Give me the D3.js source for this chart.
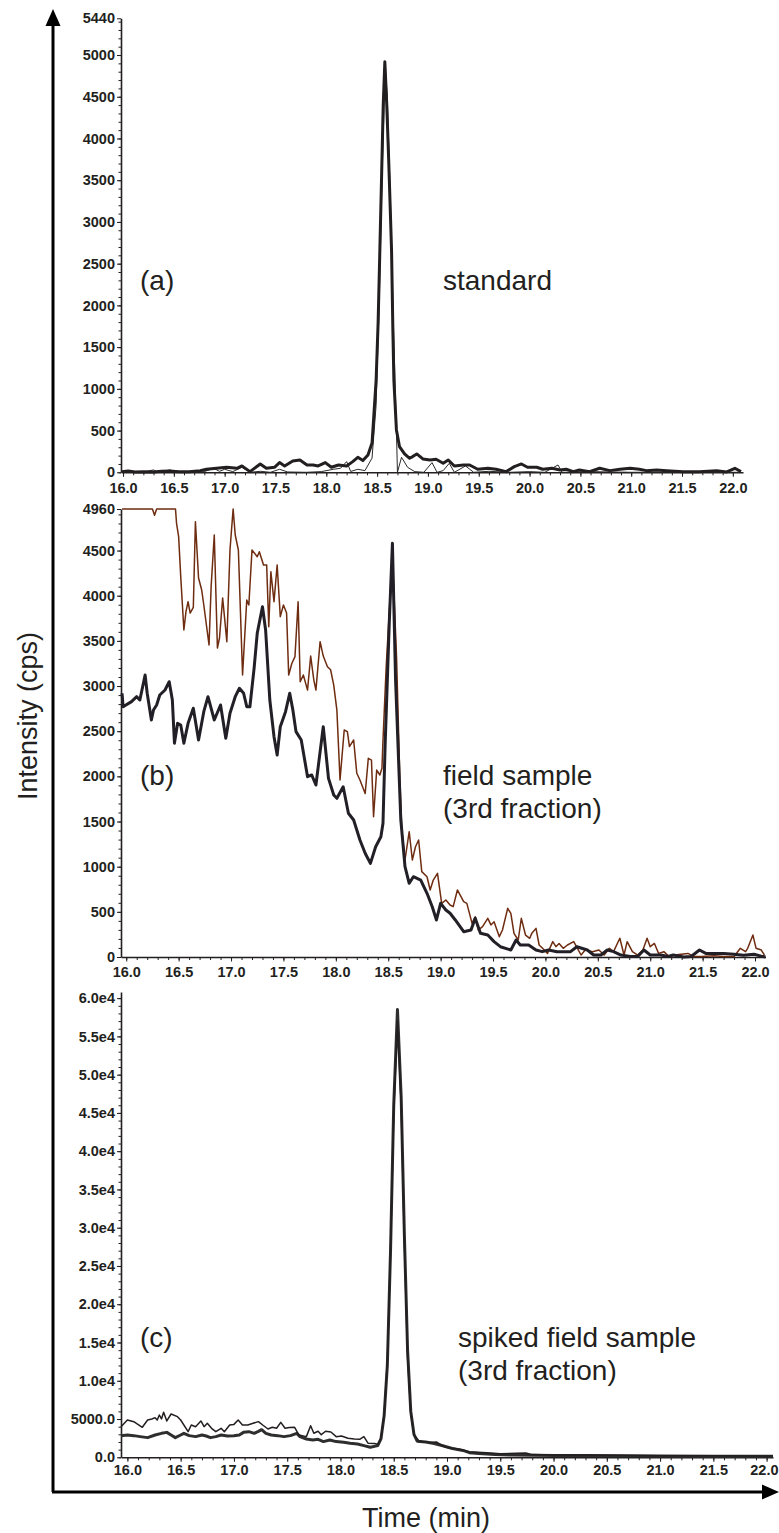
<!DOCTYPE html>
<html>
<head>
<meta charset="utf-8">
<script src="https://cdn.jsdelivr.net/npm/d3@7"></script>
<style>
body { margin: 0; background: #fff; }
svg text { font-family: "Liberation Sans", Arial, Helvetica, sans-serif; fill: #231f20; }
.axis .tick text { font-size: 14.5px; font-weight: bold; }
.axis path, .axis line { stroke: #231f20; }
</style>
</head>
<body>
<svg id="chart" width="779" height="1533"></svg>
<script>
const WIDTH = 779;
const HEIGHT = 1533;
const INK = "#231f20";

// tick labels
const timeTicks = [16.0, 16.5, 17.0, 17.5, 18.0, 18.5, 19.0, 19.5, 20.0, 20.5, 21.0, 21.5, 22.0];
const standardTicks = [0, 500, 1000, 1500, 2000, 2500, 3000, 3500, 4000, 4500, 5000, 5440];
const fieldTicks = [0, 500, 1000, 1500, 2000, 2500, 3000, 3500, 4000, 4500, 4960];
const spikedTicks = [0, 5000, 10000, 15000, 20000, 25000, 30000, 35000, 40000, 45000, 50000, 55000, 60000];
const spikedTickLabels = ["0.0", "5000.0", "1.0e4", "1.5e4", "2.0e4", "2.5e4", "3.0e4", "3.5e4", "4.0e4", "4.5e4", "5.0e4", "5.5e4", "6.0e4"];

const panelTags = ["(a)", "(b)", "(c)"];
const panelNotes = [["standard"], ["field sample", "(3rd fraction)"], ["spiked field sample", "(3rd fraction)"]];

// (a) standard: [time (min), intensity (cps)]
const standardBold = [
  [15.99, 8], [16.05, 16], [16.12, 4], [16.2, 8], [16.3, 4], [16.38, 12], [16.46, 16], [16.55, 8], [16.65, 8],
  [16.76, 20], [16.82, 36], [16.92, 48], [17.02, 60], [17.12, 48], [17.17, 76], [17.25, 8], [17.35, 100],
  [17.41, 48], [17.49, 60], [17.54, 116], [17.59, 76], [17.67, 136], [17.74, 148], [17.81, 88], [17.87, 88],
  [17.92, 76], [17.99, 116], [18.05, 60], [18.12, 88], [18.2, 76], [18.26, 128], [18.31, 180], [18.36, 140],
  [18.41, 208], [18.45, 350], [18.49, 1100], [18.51, 1800], [18.527, 2665], [18.545, 3600], [18.56, 4400],
  [18.576, 4920], [18.595, 4400], [18.615, 3700], [18.642, 2665], [18.655, 1700], [18.665, 1100], [18.69, 508],
  [18.72, 308], [18.77, 220], [18.82, 168], [18.85, 188], [18.89, 220], [18.95, 160], [19.02, 148], [19.08, 156],
  [19.15, 108], [19.2, 148], [19.26, 76], [19.35, 88], [19.41, 88], [19.49, 36], [19.59, 48], [19.67, 36],
  [19.77, 8], [19.85, 68], [19.92, 100], [19.98, 60], [20.07, 60], [20.13, 36], [20.22, 48], [20.3, 28],
  [20.36, 36], [20.43, 8], [20.49, 28], [20.59, 8], [20.69, 48], [20.79, 20], [20.89, 36], [20.99, 48],
  [21.08, 36], [21.15, 20], [21.25, 28], [21.35, 20], [21.51, 8], [21.67, 8], [21.84, 20], [21.94, 4],
  [22.02, 48], [22.08, 8]
];
const standardThin = [
  [15.99, 4], [16.1, 0], [16.2, 4], [16.3, 28], [16.35, 0], [16.46, 28], [16.55, 0], [16.8, 8], [16.89, 48],
  [16.95, 12], [17.0, 36], [17.08, 8], [17.17, 60], [17.25, 0], [17.35, 12], [17.45, 0], [17.54, 36], [17.62, 4],
  [17.8, 0], [17.95, 8], [18.07, 36], [18.14, 48], [18.2, 128], [18.24, 10], [18.31, 36], [18.38, 20],
  [18.45, 170], [18.49, 800], [18.52, 2000], [18.55, 3600], [18.58, 4880], [18.6, 4500], [18.63, 3300],
  [18.66, 1800], [18.69, 500], [18.7, 0], [18.74, 180], [18.8, 60], [18.87, 8], [18.96, 0], [19.04, 116],
  [19.09, 0], [19.15, 20], [19.21, 108], [19.26, 0], [19.37, 76], [19.45, 0], [19.6, 12], [19.8, 0], [20.0, 8],
  [20.15, 0], [20.28, 88], [20.32, 0], [20.6, 8], [21.0, 0], [21.5, 4], [22.0, 0], [22.08, 0]
];

// (b) field sample, 3rd fraction
const fieldBlack = [
  [15.96, 2920], [15.97, 2771], [16.05, 2827], [16.1, 2882], [16.13, 2845], [16.18, 3122], [16.2, 2920],
  [16.24, 2624], [16.26, 2735], [16.29, 2790], [16.32, 2901], [16.37, 2956], [16.41, 3048], [16.44, 2845],
  [16.46, 2366], [16.49, 2587], [16.52, 2569], [16.55, 2366], [16.59, 2587], [16.64, 2754], [16.69, 2403],
  [16.74, 2716], [16.78, 2882], [16.84, 2624], [16.9, 2790], [16.95, 2421], [16.99, 2698], [17.04, 2882],
  [17.08, 2975], [17.12, 2920], [17.15, 2771], [17.18, 2771], [17.22, 3196], [17.25, 3584], [17.3, 3878],
  [17.33, 3620], [17.37, 2845], [17.41, 2439], [17.44, 2236], [17.47, 2550], [17.52, 2716], [17.56, 2920],
  [17.59, 2735], [17.62, 2495], [17.67, 2403], [17.73, 1996], [17.77, 2015], [17.81, 1904], [17.88, 2550],
  [17.93, 1978], [17.98, 1794], [18.01, 1757], [18.07, 1885], [18.12, 1591], [18.17, 1517], [18.23, 1295],
  [18.28, 1148], [18.33, 1037], [18.38, 1221], [18.43, 1332], [18.45, 1480], [18.47, 2330], [18.51, 3700],
  [18.54, 4580], [18.57, 3067], [18.62, 1517], [18.66, 1000], [18.7, 816], [18.74, 889], [18.81, 852],
  [18.87, 705], [18.92, 557], [18.96, 410], [19.0, 594], [19.05, 520], [19.09, 484], [19.14, 410], [19.22, 280],
  [19.29, 299], [19.33, 428], [19.38, 262], [19.45, 243], [19.51, 170], [19.57, 114], [19.67, 77], [19.72, 188],
  [19.76, 133], [19.84, 133], [19.91, 77], [19.97, 59], [20.03, 77], [20.11, 59], [20.17, 59], [20.24, 59],
  [20.3, 114], [20.4, 77], [20.46, 22], [20.53, 22], [20.59, 77], [20.65, 59], [20.72, 22], [20.81, 5],
  [20.88, 5], [20.94, 77], [21.0, 22], [21.1, 22], [21.17, 5], [21.22, 22], [21.32, 0], [21.39, 5], [21.47, 77],
  [21.53, 40], [21.61, 40], [21.7, 40], [21.8, 30], [21.89, 20], [21.99, 30], [22.06, 10], [22.1, 0]
];
const fieldBrown = [
  [15.96, 4960], [16.25, 4960], [16.27, 4890], [16.29, 4960], [16.47, 4960], [16.48, 4802], [16.5, 4654],
  [16.52, 4211], [16.55, 3620], [16.57, 3823], [16.59, 3934], [16.61, 3808], [16.64, 3870], [16.66, 4820],
  [16.69, 4196], [16.72, 4063], [16.74, 3897], [16.79, 3454], [16.81, 4100], [16.84, 4672], [16.87, 3421],
  [16.89, 3532], [16.92, 3975], [16.96, 3491], [16.99, 4506], [17.02, 4960], [17.04, 4672], [17.07, 4506],
  [17.11, 3122], [17.15, 3952], [17.17, 3897], [17.2, 4506], [17.25, 4432], [17.27, 4487], [17.31, 4340],
  [17.34, 4340], [17.36, 3657], [17.38, 4266], [17.41, 3934], [17.44, 4340], [17.47, 3768], [17.5, 3897],
  [17.53, 3808], [17.55, 3122], [17.58, 3250], [17.61, 3325], [17.64, 3934], [17.66, 3047], [17.69, 3122],
  [17.73, 2955], [17.76, 3332], [17.79, 3066], [17.81, 2955], [17.85, 3491], [17.88, 3332], [17.92, 3214],
  [17.95, 3180], [17.98, 3010], [18.01, 2733], [18.04, 1960], [18.08, 2513], [18.11, 2495], [18.13, 2330],
  [18.17, 2403], [18.2, 2034], [18.23, 1960], [18.28, 1810], [18.31, 2200], [18.34, 2180], [18.36, 1553],
  [18.39, 2070], [18.42, 2015], [18.44, 2090], [18.45, 2400], [18.48, 3200], [18.54, 4450], [18.58, 3300],
  [18.61, 2000], [18.63, 1406], [18.66, 1074], [18.7, 1388], [18.73, 1074], [18.76, 1221], [18.79, 1295],
  [18.82, 945], [18.87, 889], [18.9, 742], [18.93, 852], [18.97, 926], [19.01, 594], [19.05, 631], [19.09, 576],
  [19.12, 557], [19.16, 742], [19.22, 613], [19.25, 594], [19.3, 372], [19.33, 446], [19.36, 299], [19.4, 336],
  [19.45, 428], [19.48, 355], [19.51, 391], [19.56, 225], [19.59, 299], [19.64, 539], [19.67, 483], [19.7, 262],
  [19.74, 188], [19.77, 428], [19.81, 243], [19.85, 207], [19.87, 262], [19.91, 317], [19.94, 133], [19.99, 77],
  [20.02, 40], [20.07, 170], [20.1, 114], [20.13, 150], [20.17, 96], [20.21, 133], [20.27, 170], [20.34, 22],
  [20.38, 77], [20.45, 59], [20.51, 77], [20.56, 22], [20.61, 96], [20.65, 59], [20.71, 207], [20.75, 22],
  [20.78, 170], [20.83, 59], [20.88, 22], [20.93, 77], [20.97, 207], [21.0, 114], [21.04, 150], [21.08, 40],
  [21.13, 59], [21.18, 5], [21.23, 22], [21.36, 40], [21.42, 5], [21.49, 5], [21.61, 15], [21.7, 5], [21.8, 5],
  [21.86, 96], [21.91, 59], [21.93, 96], [21.98, 243], [22.01, 96], [22.06, 77], [22.09, 20]
];

// (c) spiked field sample, 3rd fraction
const spikedBold = [
  [15.94, 2830], [16.0, 2915], [16.06, 2830], [16.12, 2700], [16.19, 2570], [16.26, 2915], [16.32, 3130],
  [16.37, 3260], [16.41, 2915], [16.45, 2570], [16.5, 2915], [16.53, 3130], [16.58, 2830], [16.64, 2700],
  [16.7, 2915], [16.74, 2785], [16.78, 2570], [16.83, 2700], [16.88, 2915], [16.94, 2785], [17.0, 2830],
  [17.05, 2915], [17.09, 3260], [17.14, 3350], [17.19, 3130], [17.23, 3390], [17.26, 3610], [17.3, 3130],
  [17.35, 2915], [17.41, 2830], [17.47, 2700], [17.53, 2830], [17.59, 3130], [17.62, 2700], [17.68, 2395],
  [17.74, 2265], [17.79, 2350], [17.84, 2050], [17.9, 2265], [17.96, 2050], [18.03, 1960], [18.09, 1830],
  [18.16, 1745], [18.22, 1530], [18.28, 1310], [18.35, 1530], [18.38, 2395], [18.41, 5450], [18.44, 12000],
  [18.47, 27000], [18.5, 46000], [18.535, 58500], [18.57, 47000], [18.6, 29000], [18.63, 14000], [18.66, 6000],
  [18.69, 3000], [18.72, 2100], [18.8, 2000], [18.88, 1800], [18.96, 1500], [19.05, 1150], [19.15, 900],
  [19.21, 600], [19.3, 500], [19.45, 380], [19.6, 300], [19.8, 280], [20.0, 250], [20.3, 220], [20.6, 200],
  [21.0, 180], [21.5, 150], [22.06, 150]
];
const spikedThin = [
  [15.94, 4000], [16.0, 4876], [16.06, 4654], [16.14, 3922], [16.19, 4876], [16.23, 5007], [16.26, 5180],
  [16.28, 4876], [16.3, 5530], [16.32, 5010], [16.34, 5880], [16.37, 4750], [16.41, 5660], [16.47, 5310],
  [16.5, 4876], [16.57, 3350], [16.6, 4220], [16.64, 4000], [16.69, 4750], [16.72, 4000], [16.75, 4440],
  [16.79, 3790], [16.83, 3350], [16.88, 3790], [16.91, 3350], [16.96, 4220], [17.0, 4300], [17.04, 4876],
  [17.08, 4220], [17.13, 4220], [17.18, 4440], [17.23, 4660], [17.27, 4220], [17.32, 3700], [17.36, 3920],
  [17.4, 3790], [17.44, 4570], [17.48, 3790], [17.52, 3880], [17.57, 3920], [17.61, 2915], [17.68, 2700],
  [17.72, 4130], [17.75, 3140], [17.79, 3400], [17.82, 2960], [17.86, 3400], [17.91, 3310], [17.96, 2700],
  [18.01, 2790], [18.07, 2480], [18.13, 2400], [18.18, 2350], [18.22, 2700], [18.26, 1830], [18.32, 1790],
  [18.35, 1700], [18.38, 2500], [18.41, 5600], [18.44, 12500], [18.47, 27000], [18.5, 45000], [18.535, 57000],
  [18.57, 46000], [18.6, 28000], [18.63, 13000], [18.66, 5800], [18.69, 2900], [18.74, 2100], [18.84, 1950],
  [18.9, 2000], [18.93, 1740], [18.99, 1300], [19.12, 1045], [19.21, 740], [19.37, 600], [19.5, 450],
  [19.74, 560], [19.8, 350], [20.0, 300], [20.5, 280], [21.0, 200], [21.5, 200], [22.06, 180]
];

var _svg = d3.select("#chart");

var translate = function(x, y) {
  return "translate(" + x + "," + y + ")";
};

var minorTimes = d3.range(160, 221).map(function(d) { return d / 10; });

var drawPanel = function(p) {
  var xScale = d3.scaleLinear().domain(p.xDomain).range([121, p.right]);
  var yScale = d3.scaleLinear().domain(p.yDomain).range([p.bottom, p.top]);

  // minor ticks
  _svg.append("g")
    .attr("class", "axis")
    .attr("transform", translate(0, p.bottom))
    .call(d3.axisBottom(xScale).tickValues(minorTimes).tickSize(3).tickSizeOuter(0).tickFormat(""))
    .call(function(g) { g.select(".domain").remove(); });
  _svg.append("g")
    .attr("class", "axis")
    .attr("transform", translate(121, 0))
    .call(d3.axisLeft(yScale).tickValues(p.minor).tickSize(2.5).tickSizeOuter(0).tickFormat(""))
    .call(function(g) { g.select(".domain").remove(); });

  // labelled axes
  var xAxis = _svg.append("g")
    .attr("class", "axis")
    .attr("transform", translate(0, p.bottom))
    .call(d3.axisBottom(xScale).tickValues(timeTicks).tickSize(4.5).tickSizeOuter(0)
      .tickPadding(p.xPad).tickFormat(d3.format(".1f")));
  xAxis.select(".domain").attr("stroke-width", 1.6);

  // keep the last label inside the page
  var lastLabel = xAxis.selectAll(".tick text").filter(function(d) { return d === 22.0; });
  var lastX = xScale(22.0);
  if (lastX + 14 > WIDTH) {
    lastLabel.attr("text-anchor", "end").attr("x", WIDTH - 1 - lastX);
  }

  var yAxis = _svg.append("g")
    .attr("class", "axis")
    .attr("transform", translate(121, 0))
    .call(d3.axisLeft(yScale).tickValues(p.ticks).tickSize(4).tickSizeOuter(0).tickPadding(2)
      .tickFormat(function(d, i) { return p.labels ? p.labels[i] : d; }));
  yAxis.select(".domain").attr("stroke-width", 1.6);

  var line = d3.line()
    .x(function(d) { return xScale(d[0]); })
    .y(function(d) { return yScale(d[1]); });

  p.series.forEach(function(s) {
    _svg.append("path")
      .attr("d", line(s.data))
      .attr("fill", "none")
      .attr("stroke", s.color)
      .attr("stroke-width", s.width)
      .attr("stroke-linejoin", "round");
  });

  _svg.append("text")
    .attr("x", 140)
    .attr("y", p.tagY)
    .attr("font-size", 28)
    .text(p.tag);

  p.notes.forEach(function(t, i) {
    _svg.append("text")
      .attr("x", p.noteX)
      .attr("y", p.noteY + i * 33)
      .attr("font-size", 28)
      .text(t);
  });
};

var minorStep = function(top, step) {
  return d3.range(0, top + 1, step);
};

drawPanel({
  xDomain: [15.98, 22.1], right: 743,
  yDomain: [0, 5440], bottom: 472.3, top: 18.3,
  ticks: standardTicks, minor: minorStep(5400, 100), xPad: 6,
  series: [
    { data: standardThin, color: "#2a2a2a", width: 1 },
    { data: standardBold, color: INK, width: 3 }
  ],
  tag: panelTags[0], tagY: 290, notes: panelNotes[0], noteX: 443, noteY: 290
});

drawPanel({
  xDomain: [15.95, 22.1], right: 765.5,
  yDomain: [0, 4960], bottom: 957, top: 509,
  ticks: fieldTicks, minor: minorStep(4900, 100), xPad: 5,
  series: [
    { data: fieldBrown, color: "#6e2c10", width: 1.5 },
    { data: fieldBlack, color: "#221f26", width: 3 }
  ],
  tag: panelTags[1], tagY: 785, notes: panelNotes[1], noteX: 443, noteY: 785
});

drawPanel({
  xDomain: [15.94, 22.06], right: 773,
  yDomain: [0, 60800], bottom: 1457.3, top: 992,
  ticks: spikedTicks, labels: spikedTickLabels, minor: minorStep(60000, 1000), xPad: 3,
  series: [
    { data: spikedBold, color: "#2e2e2e", width: 3 },
    { data: spikedThin, color: INK, width: 1.5 }
  ],
  tag: panelTags[2], tagY: 1347, notes: panelNotes[2], noteX: 458, noteY: 1347
});

// outer arrows
_svg.append("line")
  .attr("x1", 53).attr("y1", 1492).attr("x2", 53).attr("y2", 22)
  .attr("stroke", "#000").attr("stroke-width", 3);
_svg.append("path")
  .attr("d", "M53,9L45.5,26L60.5,26Z")
  .attr("fill", "#000");
_svg.append("line")
  .attr("x1", 52).attr("y1", 1492).attr("x2", 766).attr("y2", 1492)
  .attr("stroke", "#000").attr("stroke-width", 3);
_svg.append("path")
  .attr("d", "M779,1492L762,1484.5L762,1499.5Z")
  .attr("fill", "#000");

_svg.append("text")
  .attr("transform", "translate(37,716) rotate(-90)")
  .attr("text-anchor", "middle")
  .attr("font-size", 27)
  .text("Intensity (cps)");

_svg.append("text")
  .attr("x", 362)
  .attr("y", 1527)
  .attr("font-size", 27)
  .text("Time (min)");
</script>
</body>
</html>
